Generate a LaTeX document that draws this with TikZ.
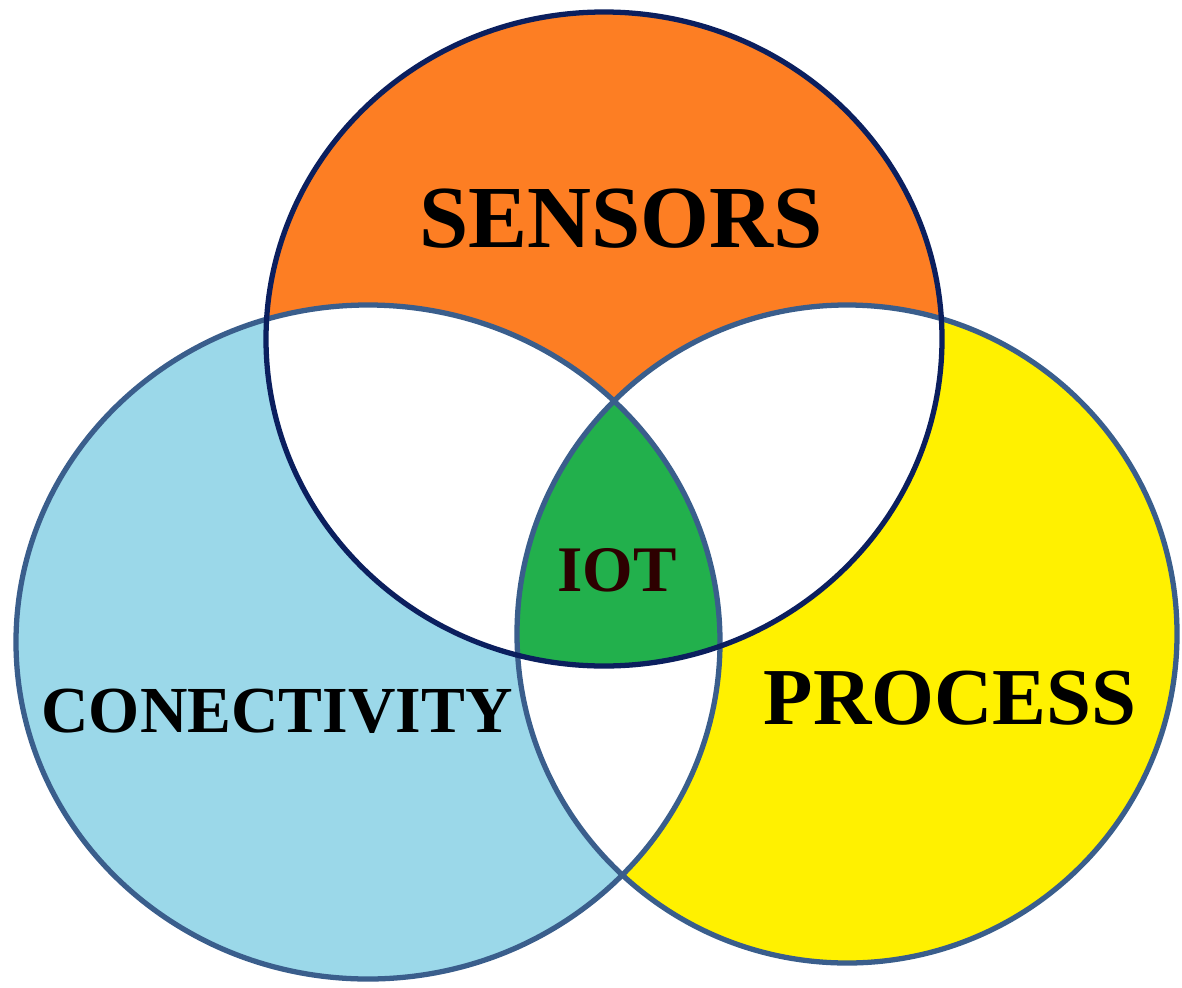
\documentclass[tikz,border=0pt]{standalone}
\usepackage{fontspec}
\setmainfont{Liberation Serif}[BoldFont={Liberation Serif Bold}]
\definecolor{sensorsorange}{RGB}{253,126,35}
\definecolor{linkblue}{RGB}{155,216,233}
\definecolor{processyellow}{RGB}{255,241,0}
\definecolor{iotgreen}{RGB}{34,176,76}
\definecolor{ringnavy}{RGB}{11,31,94}
\definecolor{ringsteel}{RGB}{58,94,140}
\begin{document}
\begin{tikzpicture}[x=0.02cm,y=-0.02cm,line width=3pt]
  \tikzstyle{venntext}=[inner sep=0pt,text=black]
  \def\topset{(604,339) ellipse [x radius=338,y radius=327]}
  \def\leftset{(368,642) ellipse [x radius=352,y radius=337]}
  \def\rightset{(847,634) ellipse [x radius=330,y radius=329]}
  \useasboundingbox (0,0) rectangle (1182,987);

  % the three sets
  \fill[sensorsorange] \topset;
  \fill[linkblue] \leftset;
  \fill[processyellow] \rightset;
  % pairwise overlaps
  \begin{scope}
    \clip \topset;
    \fill[white] \leftset;
    \fill[white] \rightset;
  \end{scope}
  \begin{scope}
    \clip \leftset;
    \fill[white] \rightset;
  \end{scope}
  % all three
  \begin{scope}
    \clip \topset;
    \clip \leftset;
    \fill[iotgreen] \rightset;
  \end{scope}
  \draw[ringsteel] \leftset;
  \draw[ringsteel] \rightset;
  \draw[ringnavy] \topset;

  \node [venntext,font=\bfseries\fontsize{50.4}{52}\selectfont] (sensors) at (621,219) {SENSORS};
  \node [venntext,font=\bfseries\fontsize{37.4}{40}\selectfont] (conectivity) at (277,711) {CONECTIVITY};
  \node [venntext,font=\bfseries\fontsize{46}{48}\selectfont] (process) at (950,698) {PROCESS};
  \node [venntext,font=\bfseries\fontsize{37}{40}\selectfont,text={rgb,255:red,45;green,0;blue,0}] (iot) at (617,570) {IOT};
\end{tikzpicture}
\end{document}
